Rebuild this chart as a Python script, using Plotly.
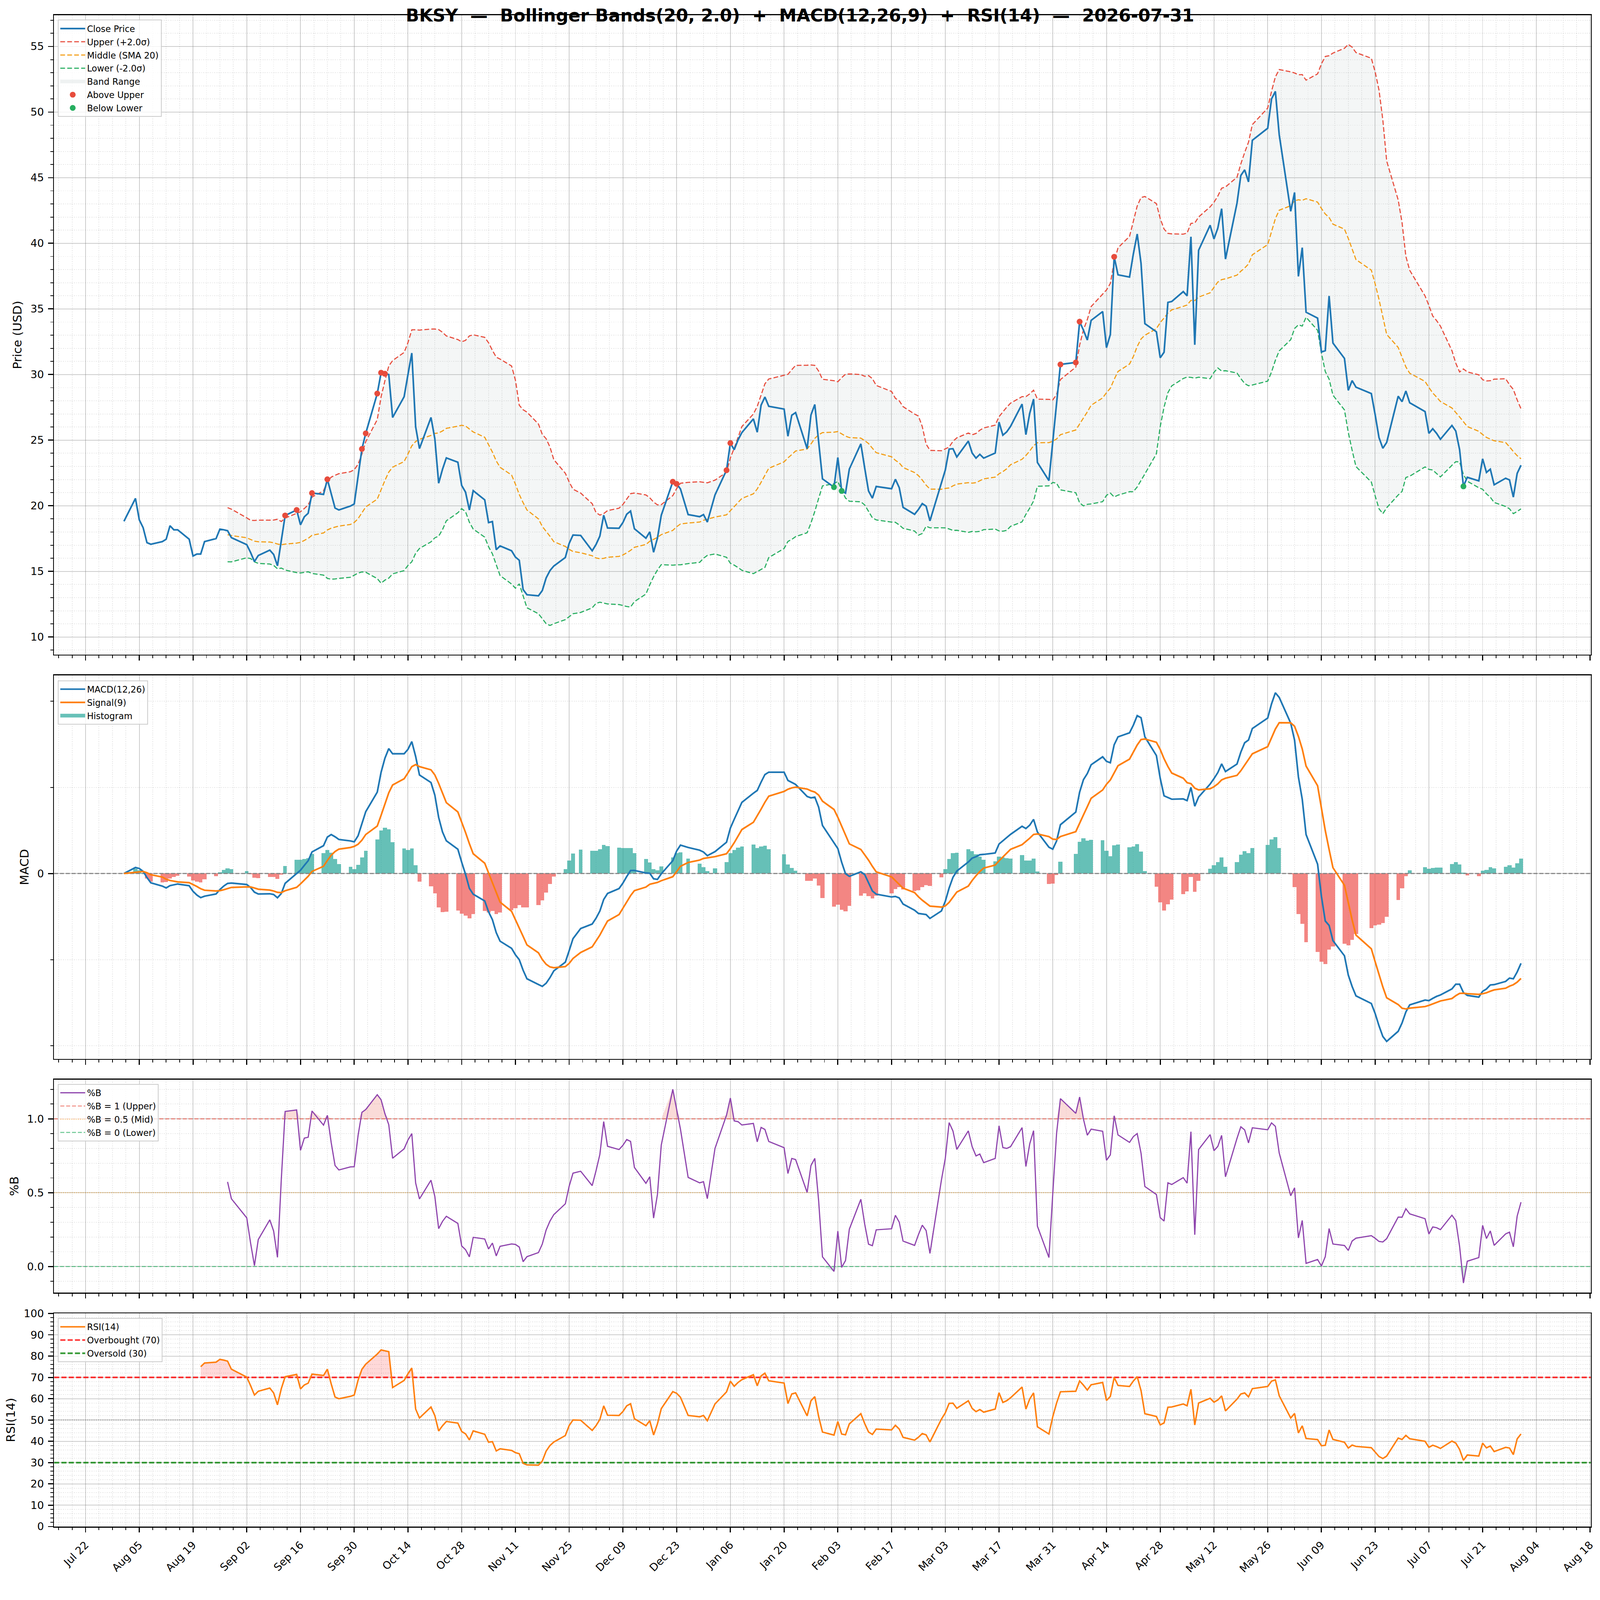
import numpy as np
import pandas as pd
import plotly.graph_objects as go
from plotly.subplots import make_subplots

# ---- data (daily closes, NYSE trading days) ----
ticker = "BKSY"
as_of = "2026-07-31"
market_holidays = ["2025-09-01", "2025-11-27", "2025-12-25", "2026-01-01",
                   "2026-01-19", "2026-02-16", "2026-04-03", "2026-05-25",
                   "2026-06-19", "2026-07-03"]
dates = pd.bdate_range("2025-08-01", "2026-07-31", freq="C", holidays=market_holidays)

close = [
    18.82,
    20.56, 18.93, 18.33, 17.19, 17.07,
    17.27, 17.45, 18.48, 18.17, 18.17,
    17.45, 16.17, 16.32, 16.32, 17.27,
    17.50, 18.22, 18.17, 18.10, 17.57,
    17.04, 16.44, 15.75, 16.21,
    16.62, 16.29, 15.43, 17.35, 19.26,
    19.68, 18.55, 19.16, 19.43, 20.97,
    20.87, 22.02, 20.93, 19.83, 19.68,
    19.98, 20.14, 22.23, 24.33, 25.52,
    28.55, 30.14, 30.06, 30.00, 26.73,
    28.31, 30.00, 31.64, 26.02, 24.36,
    26.73, 25.11, 21.72, 22.78, 23.65,
    23.32, 21.55, 21.04, 19.68, 21.15,
    20.45, 18.72, 18.80, 16.65, 16.94,
    16.57, 16.09, 15.85, 13.62, 13.22,
    13.14, 13.54, 14.50, 15.06, 15.41,
    16.06, 17.13, 17.77, 17.74,
    16.57, 17.05, 17.69, 19.28, 18.31,
    18.29, 18.72, 19.36, 19.60, 18.25,
    17.53, 18.01, 16.46, 17.53, 19.28,
    21.83, 21.67, 21.28, 19.33,
    19.17, 19.33, 18.76, 20.83,
    22.71, 24.78, 24.27, 25.02, 25.58,
    26.62, 25.61, 27.66, 28.29, 27.58,
    27.37, 25.30, 26.90, 27.10,
    24.35, 26.92, 27.72, 24.88, 22.05,
    21.42, 23.68, 21.13, 20.97, 22.80,
    24.72, 22.88, 21.13, 20.58, 21.47,
    21.30, 22.02, 21.38, 19.88,
    19.35, 19.72, 20.17, 19.97, 18.85,
    21.77, 22.72, 24.32, 24.35, 23.72,
    24.93, 24.02, 23.63, 23.92, 23.63,
    24.02, 26.38, 25.38, 25.63, 26.05,
    27.75, 25.42, 27.05, 28.13, 23.30,
    21.92, 24.88, 27.82, 30.77,
    30.92, 34.03, 33.38, 32.63, 34.13,
    34.80, 32.05, 33.05, 38.97, 37.60,
    37.43, 39.20, 40.71, 38.47, 33.88,
    33.26, 31.28, 31.70, 35.50, 35.57,
    36.32, 36.00, 40.50, 32.27, 39.47,
    41.38, 40.33, 41.15, 42.64, 38.80,
    43.06, 45.17, 45.60, 44.68, 47.85,
    48.77, 51.00, 51.58, 48.28,
    42.44, 43.88, 37.48, 39.67, 34.75,
    34.30, 31.72, 31.82, 35.99, 32.40,
    31.23, 28.80, 29.54, 29.04,
    28.55, 26.93, 25.20, 24.38, 24.83,
    28.35, 27.93, 28.75, 27.85,
    27.18, 25.52, 25.87, 25.52, 25.07,
    26.12, 25.70, 24.28, 21.48, 22.17,
    21.90, 23.58, 22.54, 22.79, 21.60,
    22.10, 21.97, 20.66, 22.47, 23.09,
]

bb_window, bb_k = 20, 2.0
macd_fast, macd_slow, macd_sig = 12, 26, 9
rsi_period = 14

# ---- indicators ----
s = pd.Series(close, index=dates)
mid = s.rolling(bb_window).mean()
sd = s.rolling(bb_window).std()
upper = mid + bb_k * sd
lower = mid - bb_k * sd
pct_b = (s - lower) / (upper - lower)

ema_f = s.ewm(span=macd_fast, adjust=False).mean()
ema_s = s.ewm(span=macd_slow, adjust=False).mean()
macd = ema_f - ema_s
signal = macd.ewm(span=macd_sig, adjust=False).mean()
hist = macd - signal

delta = s.diff()
gain = delta.clip(lower=0)
loss = -delta.clip(upper=0)
avg_gain = gain.ewm(alpha=1 / rsi_period, adjust=False, min_periods=rsi_period).mean()
avg_loss = loss.ewm(alpha=1 / rsi_period, adjust=False, min_periods=rsi_period).mean()
rsi = 100 - 100 / (1 + avg_gain / avg_loss)

above = s.where(s > upper)
below = s.where(s < lower)

# ---- figure ----
W, H = 4378, 4322
fig = make_subplots(rows=4, cols=1, shared_xaxes=True,
                    row_heights=[3, 1.8, 1, 1], vertical_spacing=0.01375)

x = dates
span = dates[-1] - dates[0]
x_rng = [dates[0] - span * 0.05, dates[-1] + span * 0.05]
x_ends = [x_rng[0], x_rng[1]]


def pad(lo, hi, m=0.05):
    d = hi - lo
    return [lo - m * d, hi + m * d]


def fill_beyond(y, level, is_above, color, row):
    v = y.dropna()
    base = np.full(len(v), level)
    clipped = np.maximum(v.values, level) if is_above else np.minimum(v.values, level)
    fig.add_trace(go.Scatter(x=v.index, y=base, mode="lines", line=dict(width=0),
                             showlegend=False, hoverinfo="skip"), row=row, col=1)
    fig.add_trace(go.Scatter(x=v.index, y=clipped, mode="lines", line=dict(width=0),
                             fill="tonexty", fillcolor=color, showlegend=False,
                             hoverinfo="skip"), row=row, col=1)


def patch_entry(name, color, legend, rank, row):
    # legend-only swatch that looks like a matplotlib patch
    fig.add_trace(go.Scatter(x=[None, None], y=[None, None], mode="lines",
                             line=dict(color=color, width=18), name=name,
                             legend=legend, legendrank=rank, legendgroup=name,
                             hoverinfo="skip"),
                  row=row, col=1)


# price panel
bv = upper.notna()
fig.add_trace(go.Scatter(x=x[bv], y=lower[bv], mode="lines", line=dict(width=0),
                         showlegend=False, hoverinfo="skip"), row=1, col=1)
fig.add_trace(go.Scatter(x=x[bv], y=upper[bv], mode="lines", line=dict(width=0),
                         fill="tonexty", fillcolor="rgba(149,165,166,0.1)",
                         showlegend=False, hoverinfo="skip"), row=1, col=1)
patch_entry("Band Range", "rgba(149,165,166,0.15)", "legend", 5, 1)
fig.add_trace(go.Scatter(x=x, y=upper, mode="lines", name="Upper (+2.0σ)",
                         line=dict(color="#e74c3c", width=3, dash="13px,6px"),
                         legendrank=2, legendgroup="up"), row=1, col=1)
fig.add_trace(go.Scatter(x=x, y=mid, mode="lines", name="Middle (SMA 20)",
                         line=dict(color="#f39c12", width=3, dash="13px,6px"),
                         legendrank=3, legendgroup="mid"), row=1, col=1)
fig.add_trace(go.Scatter(x=x, y=lower, mode="lines", name="Lower (-2.0σ)",
                         line=dict(color="#27ae60", width=3, dash="13px,6px"),
                         legendrank=4, legendgroup="low"), row=1, col=1)
fig.add_trace(go.Scatter(x=x, y=s, mode="lines", name="Close Price",
                         line=dict(color="#1f77b4", width=4.5), legendrank=1,
                         legendgroup="close"), row=1, col=1)
fig.add_trace(go.Scatter(x=x, y=above, mode="markers", name="Above Upper",
                         marker=dict(color="#e74c3c", size=16), legendrank=6,
                         legendgroup="above"), row=1, col=1)
fig.add_trace(go.Scatter(x=x, y=below, mode="markers", name="Below Lower",
                         marker=dict(color="#27ae60", size=16), legendrank=7,
                         legendgroup="below"), row=1, col=1)

# macd panel
fig.add_trace(go.Bar(x=x, y=hist.where(hist >= 0), showlegend=False,
                     marker=dict(color="#26a69a", line=dict(width=0)), opacity=0.7,
                     width=86400000), row=2, col=1)
fig.add_trace(go.Bar(x=x, y=hist.where(hist < 0), showlegend=False,
                     marker=dict(color="#ef5350", line=dict(width=0)), opacity=0.7,
                     width=86400000), row=2, col=1)
patch_entry("Histogram", "rgba(38,166,154,0.7)", "legend2", 3, 2)
fig.add_trace(go.Scatter(x=x_ends, y=[0, 0], mode="lines", showlegend=False,
                         line=dict(color="gray", width=3, dash="11px,5px"),
                         hoverinfo="skip"), row=2, col=1)
fig.add_trace(go.Scatter(x=x, y=macd, mode="lines", name="MACD(12,26)",
                         line=dict(color="#1f77b4", width=4.5), legend="legend2",
                         legendrank=1, legendgroup="macd"), row=2, col=1)
fig.add_trace(go.Scatter(x=x, y=signal, mode="lines", name="Signal(9)",
                         line=dict(color="#ff7f0e", width=4.5), legend="legend2",
                         legendrank=2, legendgroup="sig"), row=2, col=1)

# %B panel
fill_beyond(pct_b, 1.0, True, "rgba(231,76,60,0.2)", 3)
fill_beyond(pct_b, 0.0, False, "rgba(39,174,96,0.2)", 3)
fig.add_trace(go.Scatter(x=x_ends, y=[1, 1], mode="lines", name="%B = 1 (Upper)",
                         line=dict(color="rgba(231,76,60,0.7)", width=2.5, dash="11px,5px"),
                         legend="legend3", legendrank=2, legendgroup="b1"), row=3, col=1)
fig.add_trace(go.Scatter(x=x_ends, y=[0.5, 0.5], mode="lines", name="%B = 0.5 (Mid)",
                         line=dict(color="rgba(243,156,18,0.5)", width=2.5, dash="dot"),
                         legend="legend3", legendrank=3, legendgroup="b05"), row=3, col=1)
fig.add_trace(go.Scatter(x=x_ends, y=[0, 0], mode="lines", name="%B = 0 (Lower)",
                         line=dict(color="rgba(39,174,96,0.7)", width=2.5, dash="11px,5px"),
                         legend="legend3", legendrank=4, legendgroup="b0"), row=3, col=1)
fig.add_trace(go.Scatter(x=x, y=pct_b, mode="lines", name="%B",
                         line=dict(color="#8e44ad", width=3.2), legend="legend3",
                         legendrank=1, legendgroup="pb"), row=3, col=1)

# RSI panel
fill_beyond(rsi, 70, True, "rgba(255,0,0,0.15)", 4)
fill_beyond(rsi, 30, False, "rgba(0,128,0,0.15)", 4)
fig.add_trace(go.Scatter(x=x_ends, y=[50, 50], mode="lines", showlegend=False,
                         line=dict(color="rgba(128,128,128,0.6)", width=3, dash="dot"),
                         hoverinfo="skip"), row=4, col=1)
fig.add_trace(go.Scatter(x=x_ends, y=[70, 70], mode="lines", name="Overbought (70)",
                         line=dict(color="rgba(255,0,0,0.8)", width=4.5, dash="14px,6px"),
                         legend="legend4", legendrank=2, legendgroup="ob"), row=4, col=1)
fig.add_trace(go.Scatter(x=x_ends, y=[30, 30], mode="lines", name="Oversold (30)",
                         line=dict(color="rgba(0,128,0,0.8)", width=4.5, dash="14px,6px"),
                         legend="legend4", legendrank=3, legendgroup="os"), row=4, col=1)
fig.add_trace(go.Scatter(x=x, y=rsi, mode="lines", name="RSI(14)",
                         line=dict(color="#ff7f0e", width=4), legend="legend4",
                         legendrank=1, legendgroup="rsi"), row=4, col=1)

# ---- axes ----
font = "DejaVu Sans"
minor_grid = dict(ticks="outside", ticklen=7, tickwidth=2, tickcolor="black",
                  showgrid=True, gridcolor="rgba(128,128,128,0.18)", griddash="dot",
                  gridwidth=1.5)
axis_common = dict(showline=True, linecolor="black", linewidth=3, mirror=True,
                   ticks="outside", ticklen=13, tickwidth=3, tickcolor="black",
                   tickfont=dict(family=font, size=29, color="black"),
                   showgrid=True, gridcolor="rgba(128,128,128,0.4)", gridwidth=2,
                   zeroline=False, ticklabelstandoff=6)

fig.update_xaxes(**axis_common, range=x_rng, tick0="2025-07-22",
                 dtick=14 * 86400000, tickformat="%b %d", tickangle=-45,
                 minor=dict(minor_grid, tick0="2025-07-22", dtick=3.5 * 86400000))
fig.update_xaxes(showticklabels=False, row=1, col=1)
fig.update_xaxes(showticklabels=False, row=2, col=1)
fig.update_xaxes(showticklabels=False, row=3, col=1)

title_font = dict(family=font, size=33, color="black")
price_rng = pad(np.nanmin([s.min(), lower.min()]), np.nanmax([s.max(), upper.max()]))
fig.update_yaxes(**axis_common, row=1, col=1, range=price_rng, dtick=5,
                 minor=dict(minor_grid, dtick=1),
                 title=dict(text="Price (USD)", font=title_font, standoff=14))

macd_vals = pd.concat([macd, signal, hist])
fig.update_yaxes(**axis_common, row=2, col=1,
                 range=pad(macd_vals.min(), macd_vals.max()),
                 tickmode="array", tickvals=[0], ticktext=["0"],
                 minor=dict(minor_grid, tick0=0, dtick=2),
                 title=dict(text="MACD", font=title_font, standoff=14))

fig.update_yaxes(**axis_common, row=3, col=1,
                 range=pad(pct_b.min(), pct_b.max()),
                 tickvals=[0, 0.5, 1.0], tickformat=".1f",
                 minor=dict(minor_grid, tick0=0, dtick=0.1),
                 title=dict(text="%B", font=title_font, standoff=14))

fig.update_yaxes(**axis_common, row=4, col=1, range=[0, 100], dtick=10,
                 minor=dict(minor_grid, dtick=2),
                 title=dict(text="RSI(14)", font=title_font, standoff=14))

# ---- legends ----
plot_top, plot_bottom = 42, H - 135
plot_h = plot_bottom - plot_top


def legend_at(top_px):
    return dict(x=10 / (4356 - 148), y=(plot_bottom - top_px) / plot_h,
                xanchor="left", yanchor="top", bgcolor="rgba(255,255,255,0.8)",
                bordercolor="#cccccc", borderwidth=2, itemwidth=68,
                font=dict(family=font, size=24, color="black"),
                traceorder="grouped", tracegroupgap=2)


sep = "\u00a0\u00a0—\u00a0\u00a0"
plus = "\u00a0\u00a0+\u00a0\u00a0"
title = (f"{ticker}{sep}Bollinger Bands({bb_window}, {bb_k}){plus}"
         f"MACD({macd_fast},{macd_slow},{macd_sig}){plus}RSI({rsi_period}){sep}{as_of}")

fig.update_layout(
    width=W, height=H,
    margin=dict(l=148, r=W - 4356, t=plot_top, b=H - plot_bottom),
    paper_bgcolor="white", plot_bgcolor="white",
    barmode="overlay", bargap=0,
    font=dict(family=font, color="black"),
    title=dict(text=f"<b>{title}</b>", x=0.5, xanchor="center",
               y=1 - plot_top / H, yanchor="middle", yref="container",
               font=dict(family=font, size=48, color="black")),
    legend=legend_at(54),
    legend2=legend_at(1866),
    legend3=legend_at(2973),
    legend4=legend_at(3615),
)

# fit the fixed-size figure into whatever viewport the page is opened in
fit_js = """
var gd = document.getElementById('{plot_id}');
document.documentElement.style.overflow = 'hidden';
document.body.style.margin = '0';
document.body.style.overflow = 'hidden';
var k = Math.min(window.innerWidth / %d, window.innerHeight / %d);
gd.style.transformOrigin = '0 0';
gd.style.transform = 'scale(' + k + ')';
""" % (W, H)

fig.write_html("out.html", post_script=fit_js, config={"displayModeBar": False})
